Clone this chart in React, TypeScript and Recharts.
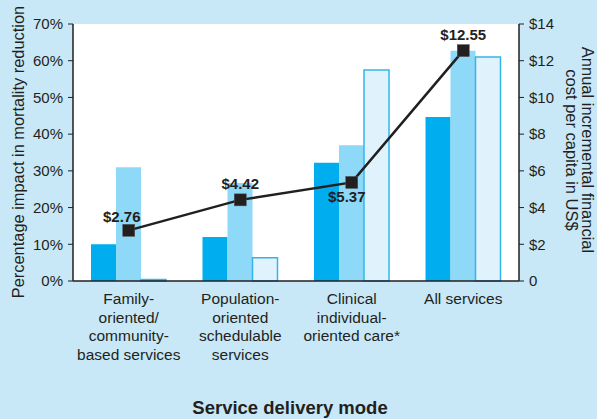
import { ComposedChart, Bar, Line, XAxis, YAxis, CartesianGrid, LabelList } from 'recharts';

const categories = [
  'Family-\noriented/\ncommunity-\nbased services',
  'Population-\noriented\nschedulable\nservices',
  'Clinical\nindividual-\noriented care*',
  'All services',
];
const impactA = [10, 12, 32.2, 44.7];
const impactB = [31, 26.7, 37, 62.7];
const impactC = [0.4, 6.3, 57.5, 61];
const costPerCapita = [2.76, 4.42, 5.37, 12.55];
const leftTicks = [0, 10, 20, 30, 40, 50, 60, 70];
const rightTicks = [0, 2, 4, 6, 8, 10, 12, 14];

const data = categories.map((name, i) => ({
  name,
  a: impactA[i],
  b: impactB[i],
  c: impactC[i],
  cost: costPerCapita[i],
}));

const ink = '#231F20';
const font = '"Liberation Sans", Arial, sans-serif';

function CategoryTick(props: any) {
  const { x, y, payload } = props;
  const lines = String(payload.value).split('\n');
  return (
    <g transform={`translate(${x},${y})`}>
      {lines.map((l, i) => (
        <text key={i} x={0} y={15 + i * 18.5} textAnchor="middle" fill={ink} fontSize={15.5} fontFamily={font}>
          {l}
        </text>
      ))}
    </g>
  );
}

function SquareDot(props: any) {
  const { cx, cy } = props;
  return <rect x={cx - 6} y={cy - 6} width={12} height={12} fill={ink} stroke="#555" strokeWidth={0.5} />;
}

function CostLabel(props: any) {
  const { x, y, value, index } = props;
  let dx = 0;
  let dy = -11;
  if (index === 0) {
    dx = -7;
    dy = -8;
  }
  if (index === 2) {
    dx = -5;
    dy = 20;
  }
  return (
    <text x={x + dx} y={y + dy} textAnchor="middle" fill={ink} fontSize={15} fontWeight="bold" fontFamily={font}>
      {`$${Number(value).toFixed(2)}`}
    </text>
  );
}

export default function App() {
  return (
    <div style={{ position: 'absolute', left: 0, top: 0, width: 597, height: 419, background: '#C8E8F8', fontFamily: font, color: ink }}>
      <ComposedChart
        width={597}
        height={419}
        data={data}
        margin={{ top: 24, right: 28, left: 23, bottom: 108 }}
        barGap={0}
        barSize={25}
      >
        <CartesianGrid horizontal={false} vertical={false} fill="#ffffff" fillOpacity={1} />
        <XAxis
          dataKey="name"
          interval={0}
          height={30}
          tickLine={false}
          axisLine={{ stroke: ink, strokeWidth: 1.5 }}
          tick={<CategoryTick />}
        />
        <YAxis
          yAxisId="left"
          width={50}
          domain={[0, 70]}
          ticks={leftTicks}
          tickFormatter={(v) => `${v}%`}
          axisLine={{ stroke: ink, strokeWidth: 1.5 }}
          tickLine={{ stroke: ink }}
          tickSize={5}
          tickMargin={5}
          tick={{ fill: ink, fontSize: 15, fontFamily: font }}
        />
        <YAxis
          yAxisId="right"
          orientation="right"
          width={50}
          domain={[0, 14]}
          ticks={rightTicks}
          tickFormatter={(v) => (v === 0 ? '0' : `$${v}`)}
          axisLine={{ stroke: ink, strokeWidth: 1.5 }}
          tickLine={{ stroke: ink }}
          tickSize={5}
          tickMargin={5}
          tick={{ fill: ink, fontSize: 15, fontFamily: font }}
        />
        <Bar yAxisId="left" dataKey="a" fill="#00AEEF" isAnimationActive={false} />
        <Bar yAxisId="left" dataKey="b" fill="#8ED8F8" isAnimationActive={false} />
        <Bar yAxisId="left" dataKey="c" fill="#E0F3FC" stroke="#33B5EC" strokeWidth={1.5} isAnimationActive={false} />
        <Line
          yAxisId="right"
          dataKey="cost"
          stroke={ink}
          strokeWidth={2.5}
          dot={<SquareDot />}
          activeDot={false}
          isAnimationActive={false}
        >
          <LabelList dataKey="cost" content={<CostLabel />} />
        </Line>
      </ComposedChart>
      <div
        style={{
          position: 'absolute',
          left: 18,
          top: 152,
          transform: 'translate(-50%, -50%) rotate(-90deg)',
          whiteSpace: 'nowrap',
          fontSize: 16.4,
        }}
      >
        Percentage impact in mortality reduction
      </div>
      <div
        style={{
          position: 'absolute',
          left: 580,
          top: 150,
          transform: 'translate(-50%, -50%) rotate(90deg)',
          whiteSpace: 'nowrap',
          fontSize: 16.5,
          lineHeight: '16px',
          textAlign: 'center',
        }}
      >
        Annual incremental financial
        <br />
        cost per capita in US$
      </div>
      <div
        style={{
          position: 'absolute',
          left: 290,
          top: 408,
          transform: 'translate(-50%, -50%)',
          whiteSpace: 'nowrap',
          fontSize: 18.5,
          fontWeight: 'bold',
        }}
      >
        Service delivery mode
      </div>
    </div>
  );
}
